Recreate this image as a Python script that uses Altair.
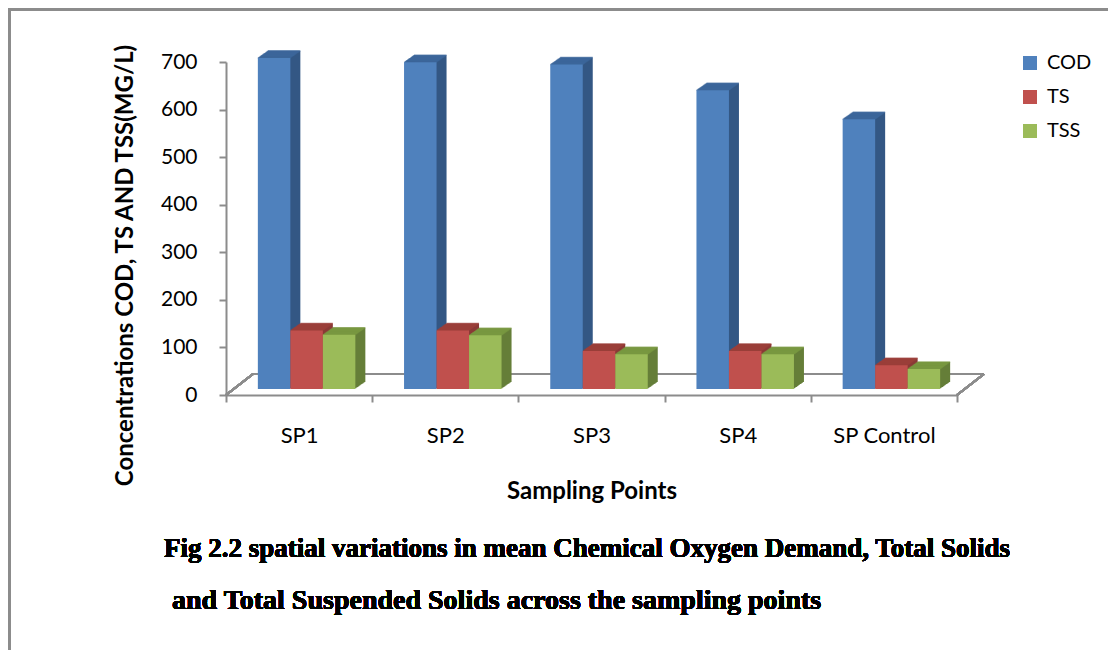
import altair as alt
import pandas as pd

# ---- data ----
categories = ["SP1", "SP2", "SP3", "SP4", "SP Control"]
cod = [696, 687, 682, 628, 567]
ts = [123, 123, 80, 80, 50]
tss = [114, 113, 73, 73, 42]
series = ["COD", "TS", "TSS"]
y_ticks = [0, 100, 200, 300, 400, 500, 600, 700]
caption_lines = [
    "Fig 2.2 spatial variations in mean Chemical Oxygen Demand, Total Solids",
    "and Total Suspended Solids across the sampling points",
]

# ---- styling ----
front_colors = ["#4F81BD", "#C0504D", "#9BBB59"]
side_colors = ["#335784", "#8A3936", "#657E38"]
top_colors = ["#3D689C", "#9C3E3B", "#7A9A42"]
gray = "#8C8C8C"
W, H = 731, 333
PAD = {"left": 218, "top": 54, "right": 151, "bottom": 255}
bar_w = 32.5
centers = [-25, 7.5, 40]
depth_x, depth_y = 10, 7.0
lift = 6
font = "Lato"

values_by_series = {"COD": cod, "TS": ts, "TSS": tss}
tables = {
    s: pd.DataFrame({"category": categories, "series": [s] * len(categories),
                     "value": values_by_series[s]})
    for s in series
}
df_all = pd.concat(tables.values(), ignore_index=True)

x_axis = alt.Axis(
    title="Sampling Points", titleFont=font, titleFontSize=24, titleFontWeight="bold",
    titleColor="black", titleY=96, titleBaseline="middle",
    labelAngle=0, labelFont=font, labelFontSize=22, labelColor="black", labelPadding=23,
    tickBand="extent", tickSize=7, tickColor=gray, tickWidth=2,
    domainColor=gray, domainWidth=2, grid=False,
)
y_axis = alt.Axis(
    title="Concentrations COD, TS AND TSS(MG/L)", titleFont=font, titleFontSize=24,
    titleFontWeight="bold", titleColor="black", titleX=-101, titleY=203,
    titleAngle=270, titleAlign="center", titleBaseline="middle",
    values=y_ticks, labelFont=font, labelFontSize=21, labelColor="black", labelPadding=22,
    tickSize=7, tickColor=gray, tickWidth=2, domainColor=gray, domainWidth=2, grid=False,
)
x_scale = alt.Scale(paddingInner=0, paddingOuter=0)
y_scale = alt.Scale(domain=[0, 700], nice=False)
color_scale = alt.Scale(domain=series, range=front_colors)


def xenc():
    return alt.X("category:N", sort=categories, scale=x_scale, axis=x_axis)


def yenc():
    return alt.Y("value:Q", scale=y_scale, axis=y_axis)


base = alt.Chart(df_all)
layers = []

# floor of the 3D plot (back edge and two side edges), drawn from the axis baseline
layers.append(
    base.mark_rule(color=gray, strokeWidth=2, xOffset=27, x2Offset=27, yOffset=-21)
    .encode(x=alt.value(0), x2=alt.value(W), y=alt.value(H))
)
layers.append(
    base.mark_rule(color=gray, strokeWidth=2, x2Offset=27, y2Offset=-21)
    .encode(x=alt.value(0), x2=alt.value(0), y=alt.value(H), y2=alt.value(H))
)
layers.append(
    base.mark_rule(color=gray, strokeWidth=2, x2Offset=27, y2Offset=-21)
    .encode(x=alt.value(W), x2=alt.value(W), y=alt.value(H), y2=alt.value(H))
)

# side faces
for i, s in enumerate(series):
    for k in range(1, depth_x + 1):
        dy = -lift - depth_y * k / depth_x
        layers.append(
            alt.Chart(tables[s]).mark_bar(width=bar_w, color=side_colors[i],
                                          xOffset=centers[i] + k, yOffset=dy, y2Offset=dy)
            .encode(x=xenc(), y=yenc())
        )
# top faces
for i, s in enumerate(series):
    for k in range(0, depth_x + 1):
        dy = -lift - depth_y * k / depth_x
        layers.append(
            alt.Chart(tables[s]).mark_tick(size=bar_w, thickness=1.6, color=top_colors[i],
                                           xOffset=centers[i] + k, yOffset=dy)
            .encode(x=xenc(), y=yenc())
        )
# front faces (with legend)
for i, s in enumerate(series):
    layers.append(
        alt.Chart(tables[s]).mark_bar(width=bar_w, xOffset=centers[i],
                                      yOffset=-lift, y2Offset=-lift)
        .encode(
            x=xenc(), y=yenc(),
            color=alt.Color("series:N", scale=color_scale, legend=alt.Legend(title=None)),
        )
    )

# caption
cap_style = dict(align="left", baseline="middle", font="Liberation Serif",
                 fontWeight="bold", color="black")
layers.append(
    base.mark_text(fontSize=27, **cap_style)
    .encode(x=alt.value(-62), y=alt.value(487), text=alt.value(caption_lines[0]))
)
layers.append(
    base.mark_text(fontSize=28, **cap_style)
    .encode(x=alt.value(-54), y=alt.value(539), text=alt.value(caption_lines[1]))
)

# page frame (left and top edges)
layers.append(
    base.mark_rule(color=gray, strokeWidth=2.5)
    .encode(x=alt.value(-217), y=alt.value(-53), y2=alt.value(H + PAD["bottom"]))
)
layers.append(
    base.mark_rule(color=gray, strokeWidth=2.5)
    .encode(y=alt.value(-52.5), x=alt.value(-218), x2=alt.value(W + PAD["right"]))
)

chart = (
    alt.layer(*layers)
    .properties(width=W, height=H, autosize=alt.AutoSizeParams(type="none"), padding=PAD,
                background="white")
    .configure_view(stroke=None)
    .configure_legend(
        orient="none", legendX=794, legendY=-9, symbolType="square", symbolSize=196,
        symbolStrokeWidth=0, labelFont=font, labelFontSize=20, labelColor="black",
        labelOffset=7, rowPadding=14,
    )
)

chart.save("out.html", embed_options={"renderer": "svg", "actions": False})
